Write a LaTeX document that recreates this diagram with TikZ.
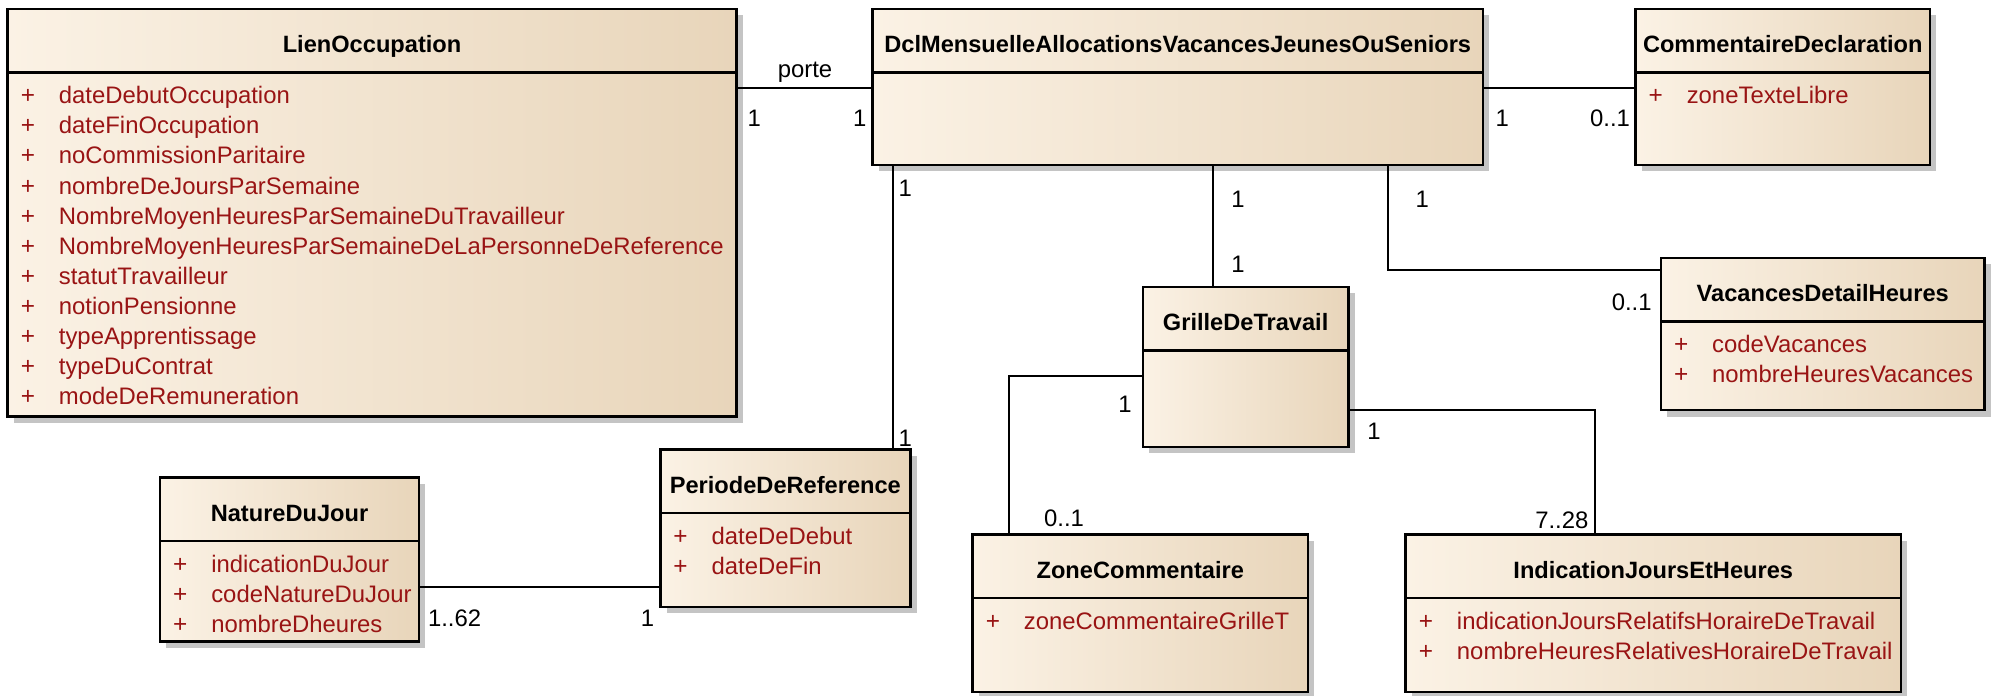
\documentclass[tikz,border=0pt]{standalone}
\usepackage{fontspec}
\setmainfont{Liberation Sans}
\definecolor{boxL}{HTML}{FBF2E5}
\definecolor{boxR}{HTML}{E8D5BA}
\definecolor{shadowc}{HTML}{C4C4C4}
\definecolor{attrc}{HTML}{991414}
\tikzset{
  classbox/.style={draw=black, line width=1pt, left color=boxL, right color=boxR, inner sep=0pt, outer sep=0pt},
  sepline/.style={line width=1pt},
  titletext/.style={font=\fontsize{9.3pt}{11pt}\selectfont\bfseries, inner sep=0pt, anchor=base},
  attrtext/.style={font=\fontsize{9.4pt}{11pt}\selectfont, text=attrc, anchor=base west, inner sep=0pt},
  plussign/.style={font=\fontsize{9.6pt}{11pt}\selectfont, text=attrc, inner sep=0pt, anchor=base},
  mult/.style={font=\fontsize{9.4pt}{11pt}\selectfont, inner sep=0pt},
  conn/.style={line width=0.8pt}
}
\newcommand\umlclass[7]{%
  \fill[shadowc] (#2+5,#3+5) rectangle (#2+#4+5,#3+#5+5);
  \node[classbox, minimum width=#4*0.5pt, minimum height=#5*0.5pt, anchor=north west] (#1) at (#2,#3) {};
  \draw[sepline] (#2,#3+50) -- (#2+#4,#3+50);
  \node[titletext] (#1-title) at (#2+#4/2,#3+34.5) {#6};
  \foreach \a [count=\i] in {#7} {
    \node[plussign] (#1-p\i) at (#2+16,#3+51+23.7*\i) {+};
    \node[attrtext] (#1-a\i) at (#2+40,#3+51+23.7*\i) {\a};
  }
}
\begin{document}
\begin{tikzpicture}[x=0.5pt,y=-0.5pt]
\useasboundingbox (0,0) rectangle (1568,548);
\umlclass{lien}{6}{7}{574}{321}{LienOccupation}{dateDebutOccupation,dateFinOccupation,noCommissionParitaire,nombreDeJoursParSemaine,NombreMoyenHeuresParSemaineDuTravailleur,NombreMoyenHeuresParSemaineDeLaPersonneDeReference,statutTravailleur,notionPensionne,typeApprentissage,typeDuContrat,modeDeRemuneration}
\umlclass{dcl}{687}{7}{481}{123}{DclMensuelleAllocationsVacancesJeunesOuSeniors}{}
\umlclass{comm}{1288}{7}{232}{123}{CommentaireDeclaration}{zoneTexteLibre}
\umlclass{vac}{1308}{203}{255}{120}{VacancesDetailHeures}{codeVacances,nombreHeuresVacances}
\umlclass{grille}{900}{226}{162}{126}{GrilleDeTravail}{}
\umlclass{periode}{520}{354}{197}{124}{PeriodeDeReference}{dateDeDebut,dateDeFin}
\umlclass{nature}{126}{376}{204}{129}{NatureDuJour}{indicationDuJour,codeNatureDuJour,nombreDheures}
\umlclass{zone}{766}{421}{264}{124}{ZoneCommentaire}{zoneCommentaireGrilleT}
\umlclass{ind}{1107}{421}{390}{124}{IndicationJoursEtHeures}{indicationJoursRelatifsHoraireDeTravail,nombreHeuresRelativesHoraireDeTravail}

\draw[conn] (lien.east |- 0,69) -- (dcl.west |- 0,69);
\draw[conn] (dcl.east |- 0,69) -- (comm.west |- 0,69);
\draw[conn] (dcl.south -| 955,0) -- (grille.north -| 955,0);
\draw[conn] (dcl.south -| 1093,0) |- (vac.west |- 0,213);
\draw[conn] (dcl.south -| 703,0) -- (periode.north -| 703,0);
\draw[conn] (grille.west |- 0,296) -| (zone.north -| 795,0);
\draw[conn] (grille.east |- 0,323) -| (ind.north -| 1256,0);
\draw[conn] (nature.east |- 0,462) -- (periode.west |- 0,462);

\node[mult] (lporte) at (634,57) {porte};
\node[mult] (m1) at (594,93) {1};
\node[mult] (m2) at (677,93) {1};
\node[mult] (m3) at (1183,93) {1};
\node[mult] (m4) at (1268,93) {0..1};
\node[mult] (m5) at (975,157) {1};
\node[mult] (m6) at (975,208) {1};
\node[mult] (m7) at (1120,157) {1};
\node[mult] (m8) at (1285,238) {0..1};
\node[mult] (m9) at (713,148) {1};
\node[mult] (m10) at (713,345) {1};
\node[mult] (m11) at (886,318) {1};
\node[mult] (m12) at (838,408) {0..1};
\node[mult] (m13) at (1082,340) {1};
\node[mult] (m14) at (1230,410) {7..28};
\node[mult] (m15) at (358,487) {1..62};
\node[mult] (m16) at (510,487) {1};
\end{tikzpicture}
\end{document}
